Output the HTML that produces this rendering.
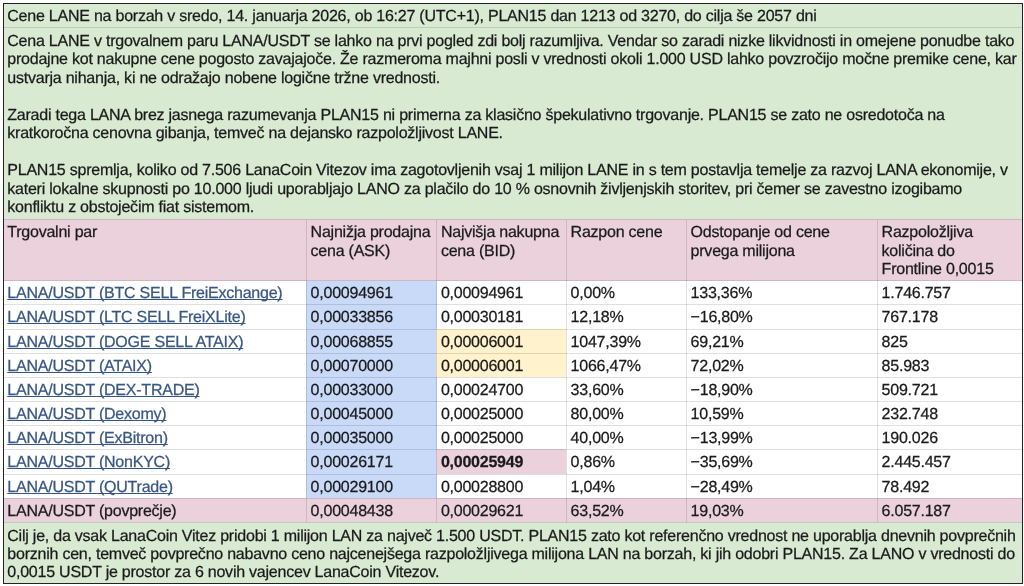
<!DOCTYPE html>
<html><head><meta charset="utf-8"><style>
html,body{margin:0;padding:0;background:#fff;width:1024px;height:586px;overflow:hidden}
#wrap{position:absolute;left:0;top:0;width:1024px;height:586px;background:#fff;filter:blur(0.3px)}
body{position:relative;font-family:"Liberation Sans",sans-serif;font-size:16px;letter-spacing:-0.23px;text-rendering:geometricPrecision;color:#1a1a1a}
.r{position:absolute}
.t{position:absolute;white-space:nowrap;line-height:18.4px;-webkit-text-stroke:0.25px currentColor}
.a{color:#385683;text-decoration:underline;text-decoration-skip-ink:none}
.b{font-weight:bold}
#box{position:absolute;left:3px;top:3px;width:1018px;height:579px;border:1px solid #222}
</style></head><body><div id="wrap">
<div class="r" style="left:4px;top:4px;width:1018px;height:215px;background:#d9ead3"></div>
<div class="r" style="left:4px;top:219px;width:1018px;height:62px;background:#ead1dc"></div>
<div class="r" style="left:306px;top:281px;width:131px;height:217px;background:#c9daf8"></div>
<div class="r" style="left:436px;top:329px;width:130px;height:48px;background:#fff2cc"></div>
<div class="r" style="left:436px;top:449px;width:130px;height:25px;background:#ead1dc"></div>
<div class="r" style="left:4px;top:498px;width:1018px;height:24px;background:#ead1dc"></div>
<div class="r" style="left:4px;top:522px;width:1018px;height:61px;background:#d9ead3"></div>
<div class="r" style="left:4px;top:27px;width:1018px;height:1px;background:rgba(0,0,0,0.12)"></div>
<div class="r" style="left:4px;top:219px;width:1018px;height:1px;background:rgba(0,0,0,0.12)"></div>
<div class="r" style="left:4px;top:280px;width:1018px;height:1px;background:rgba(0,0,0,0.12)"></div>
<div class="r" style="left:4px;top:304px;width:1018px;height:1px;background:rgba(0,0,0,0.12)"></div>
<div class="r" style="left:4px;top:329px;width:1018px;height:1px;background:rgba(0,0,0,0.12)"></div>
<div class="r" style="left:4px;top:353px;width:1018px;height:1px;background:rgba(0,0,0,0.12)"></div>
<div class="r" style="left:4px;top:377px;width:1018px;height:1px;background:rgba(0,0,0,0.12)"></div>
<div class="r" style="left:4px;top:401px;width:1018px;height:1px;background:rgba(0,0,0,0.12)"></div>
<div class="r" style="left:4px;top:425px;width:1018px;height:1px;background:rgba(0,0,0,0.12)"></div>
<div class="r" style="left:4px;top:449px;width:1018px;height:1px;background:rgba(0,0,0,0.12)"></div>
<div class="r" style="left:4px;top:474px;width:1018px;height:1px;background:rgba(0,0,0,0.12)"></div>
<div class="r" style="left:4px;top:498px;width:1018px;height:1px;background:rgba(0,0,0,0.12)"></div>
<div class="r" style="left:4px;top:522px;width:1018px;height:1px;background:rgba(0,0,0,0.12)"></div>
<div class="r" style="left:306px;top:220px;width:1px;height:302px;background:rgba(0,0,0,0.12)"></div>
<div class="r" style="left:436px;top:220px;width:1px;height:302px;background:rgba(0,0,0,0.12)"></div>
<div class="r" style="left:566px;top:220px;width:1px;height:302px;background:rgba(0,0,0,0.12)"></div>
<div class="r" style="left:686px;top:220px;width:1px;height:302px;background:rgba(0,0,0,0.12)"></div>
<div class="r" style="left:877px;top:220px;width:1px;height:302px;background:rgba(0,0,0,0.12)"></div>
<div class="t" style="left:7.3px;top:8.40px">Cene LANE na borzah v sredo, 14. januarja 2026, ob 16:27 (UTC+1), PLAN15 dan 1213 od 3270, do cilja še 2057 dni</div>
<div class="t" style="left:7.3px;top:32.70px">Cena LANE v trgovalnem paru LANA/USDT se lahko na prvi pogled zdi bolj razumljiva. Vendar so zaradi nizke likvidnosti in omejene ponudbe tako</div>
<div class="t" style="left:7.3px;top:51.20px">prodajne kot nakupne cene pogosto zavajajoče. Že razmeroma majhni posli v vrednosti okoli 1.000 USD lahko povzročijo močne premike cene, kar</div>
<div class="t" style="left:7.3px;top:69.70px">ustvarja nihanja, ki ne odražajo nobene logične tržne vrednosti.</div>
<div class="t" style="left:7.3px;top:106.70px">Zaradi tega LANA brez jasnega razumevanja PLAN15 ni primerna za klasično špekulativno trgovanje. PLAN15 se zato ne osredotoča na</div>
<div class="t" style="left:7.3px;top:125.20px">kratkoročna cenovna gibanja, temveč na dejansko razpoložljivost LANE.</div>
<div class="t" style="left:7.3px;top:162.20px">PLAN15 spremlja, koliko od 7.506 LanaCoin Vitezov ima zagotovljenih vsaj 1 milijon LANE in s tem postavlja temelje za razvoj LANA ekonomije, v</div>
<div class="t" style="left:7.3px;top:180.70px">kateri lokalne skupnosti po 10.000 ljudi uporabljajo LANO za plačilo do 10 % osnovnih življenjskih storitev, pri čemer se zavestno izogibamo</div>
<div class="t" style="left:7.3px;top:199.20px">konfliktu z obstoječim fiat sistemom.</div>
<div class="t" style="left:7.3px;top:224.30px">Trgovalni par</div>
<div class="t" style="left:310.6px;top:224.30px">Najnižja prodajna</div>
<div class="t" style="left:310.6px;top:242.80px">cena (ASK)</div>
<div class="t" style="left:440.9px;top:224.30px">Najvišja nakupna</div>
<div class="t" style="left:440.9px;top:242.80px">cena (BID)</div>
<div class="t" style="left:570.6px;top:224.30px">Razpon cene</div>
<div class="t" style="left:690.6px;top:224.30px">Odstopanje od cene</div>
<div class="t" style="left:690.6px;top:242.80px">prvega milijona</div>
<div class="t" style="left:881.6px;top:224.30px">Razpoložljiva</div>
<div class="t" style="left:881.6px;top:242.80px">količina do</div>
<div class="t" style="left:881.6px;top:261.30px">Frontline 0,0015</div>
<div class="t a" style="left:7.3px;top:285.30px">LANA/USDT (BTC SELL FreiExchange)</div>
<div class="t" style="left:310.6px;top:285.30px">0,00094961</div>
<div class="t" style="left:440.9px;top:285.30px">0,00094961</div>
<div class="t" style="left:570.6px;top:285.30px">0,00%</div>
<div class="t" style="left:690.6px;top:285.30px">133,36%</div>
<div class="t" style="left:881.6px;top:285.30px">1.746.757</div>
<div class="t a" style="left:7.3px;top:309.47px">LANA/USDT (LTC SELL FreiXLite)</div>
<div class="t" style="left:310.6px;top:309.47px">0,00033856</div>
<div class="t" style="left:440.9px;top:309.47px">0,00030181</div>
<div class="t" style="left:570.6px;top:309.47px">12,18%</div>
<div class="t" style="left:690.6px;top:309.47px">−16,80%</div>
<div class="t" style="left:881.6px;top:309.47px">767.178</div>
<div class="t a" style="left:7.3px;top:333.64px">LANA/USDT (DOGE SELL ATAIX)</div>
<div class="t" style="left:310.6px;top:333.64px">0,00068855</div>
<div class="t" style="left:440.9px;top:333.64px">0,00006001</div>
<div class="t" style="left:570.6px;top:333.64px">1047,39%</div>
<div class="t" style="left:690.6px;top:333.64px">69,21%</div>
<div class="t" style="left:881.6px;top:333.64px">825</div>
<div class="t a" style="left:7.3px;top:357.81px">LANA/USDT (ATAIX)</div>
<div class="t" style="left:310.6px;top:357.81px">0,00070000</div>
<div class="t" style="left:440.9px;top:357.81px">0,00006001</div>
<div class="t" style="left:570.6px;top:357.81px">1066,47%</div>
<div class="t" style="left:690.6px;top:357.81px">72,02%</div>
<div class="t" style="left:881.6px;top:357.81px">85.983</div>
<div class="t a" style="left:7.3px;top:381.98px">LANA/USDT (DEX-TRADE)</div>
<div class="t" style="left:310.6px;top:381.98px">0,00033000</div>
<div class="t" style="left:440.9px;top:381.98px">0,00024700</div>
<div class="t" style="left:570.6px;top:381.98px">33,60%</div>
<div class="t" style="left:690.6px;top:381.98px">−18,90%</div>
<div class="t" style="left:881.6px;top:381.98px">509.721</div>
<div class="t a" style="left:7.3px;top:406.15px">LANA/USDT (Dexomy)</div>
<div class="t" style="left:310.6px;top:406.15px">0,00045000</div>
<div class="t" style="left:440.9px;top:406.15px">0,00025000</div>
<div class="t" style="left:570.6px;top:406.15px">80,00%</div>
<div class="t" style="left:690.6px;top:406.15px">10,59%</div>
<div class="t" style="left:881.6px;top:406.15px">232.748</div>
<div class="t a" style="left:7.3px;top:430.32px">LANA/USDT (ExBitron)</div>
<div class="t" style="left:310.6px;top:430.32px">0,00035000</div>
<div class="t" style="left:440.9px;top:430.32px">0,00025000</div>
<div class="t" style="left:570.6px;top:430.32px">40,00%</div>
<div class="t" style="left:690.6px;top:430.32px">−13,99%</div>
<div class="t" style="left:881.6px;top:430.32px">190.026</div>
<div class="t a" style="left:7.3px;top:454.49px">LANA/USDT (NonKYC)</div>
<div class="t" style="left:310.6px;top:454.49px">0,00026171</div>
<div class="t b" style="left:440.9px;top:454.49px">0,00025949</div>
<div class="t" style="left:570.6px;top:454.49px">0,86%</div>
<div class="t" style="left:690.6px;top:454.49px">−35,69%</div>
<div class="t" style="left:881.6px;top:454.49px">2.445.457</div>
<div class="t a" style="left:7.3px;top:478.66px">LANA/USDT (QUTrade)</div>
<div class="t" style="left:310.6px;top:478.66px">0,00029100</div>
<div class="t" style="left:440.9px;top:478.66px">0,00028800</div>
<div class="t" style="left:570.6px;top:478.66px">1,04%</div>
<div class="t" style="left:690.6px;top:478.66px">−28,49%</div>
<div class="t" style="left:881.6px;top:478.66px">78.492</div>
<div class="t" style="left:7.3px;top:502.83px">LANA/USDT (povprečje)</div>
<div class="t" style="left:310.6px;top:502.83px">0,00048438</div>
<div class="t" style="left:440.9px;top:502.83px">0,00029621</div>
<div class="t" style="left:570.6px;top:502.83px">63,52%</div>
<div class="t" style="left:690.6px;top:502.83px">19,03%</div>
<div class="t" style="left:881.6px;top:502.83px">6.057.187</div>
<div class="t" style="left:7.3px;top:527.70px">Cilj je, da vsak LanaCoin Vitez pridobi 1 milijon LAN za največ 1.500 USDT. PLAN15 zato kot referenčno vrednost ne uporablja dnevnih povprečnih</div>
<div class="t" style="left:7.3px;top:545.80px">borznih cen, temveč povprečno nabavno ceno najcenejšega razpoložljivega milijona LAN na borzah, ki jih odobri PLAN15. Za LANO v vrednosti do</div>
<div class="t" style="left:7.3px;top:563.90px">0,0015 USDT je prostor za 6 novih vajencev LanaCoin Vitezov.</div>
<div id="box"></div>
</div></body></html>
